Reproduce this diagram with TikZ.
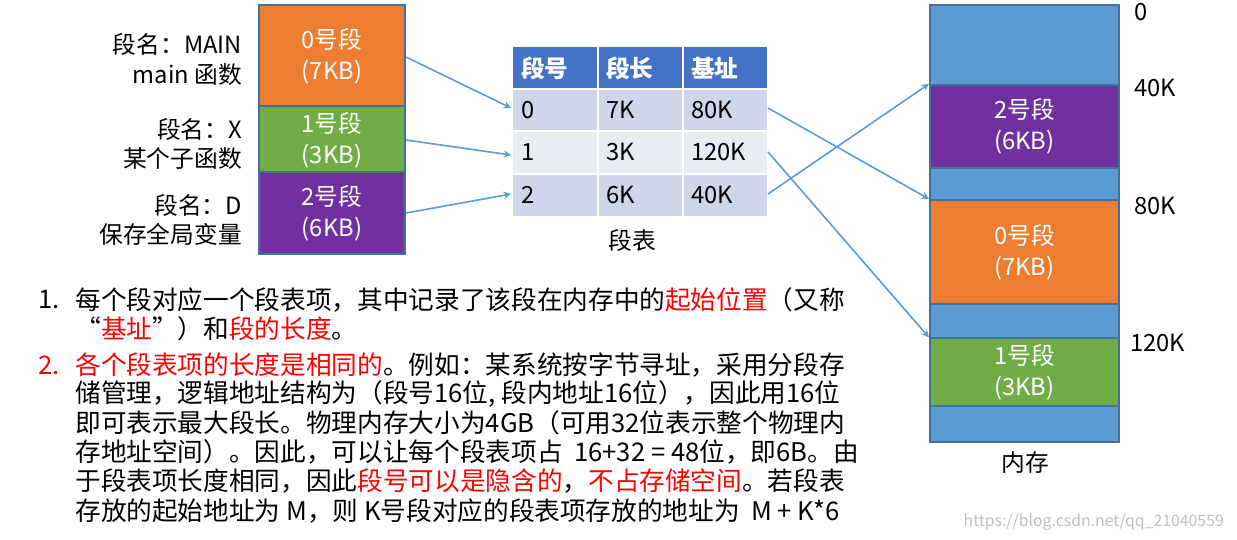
\documentclass[tikz,border=0pt]{standalone}
\usepackage{fontspec}
\setmainfont{Noto Sans CJK SC}
\definecolor{borg}{HTML}{ED7D31}
\definecolor{bgrn}{HTML}{70AD47}
\definecolor{bpur}{HTML}{7030A0}
\definecolor{bblu}{HTML}{5B9BD5}
\definecolor{bdr}{HTML}{41719C}
\definecolor{thead}{HTML}{4472C4}
\definecolor{rowa}{HTML}{CFD5EA}
\definecolor{rowb}{HTML}{E9EBF5}
\definecolor{arr}{HTML}{5B9BD5}
\definecolor{hl}{HTML}{FF0000}
\tikzset{
 seg/.style={draw=bdr,line width=1.2pt,text=white,align=center,font=\fontsize{13.5pt}{17.5pt}\selectfont},
 lbl/.style={font=\fontsize{13.5pt}{16pt}\selectfont,anchor=east},
 cell/.style={font=\fontsize{13.5pt}{16pt}\selectfont,anchor=west},
 hcell/.style={font=\bfseries\fontsize{13.5pt}{16pt}\selectfont,anchor=west,text=white},
 conn/.style={draw=arr,line width=0.9pt,-stealth},
 body/.style={font=\fontsize{14.6pt}{16pt}\selectfont,anchor=west,inner sep=0pt},
 addr/.style={font=\fontsize{13.5pt}{16pt}\selectfont,anchor=west}
}
\begin{document}
\begin{tikzpicture}[x=0.02cm,y=-0.02cm]
\useasboundingbox[fill=white] (0,0) rectangle (1237,539);
% left segments
\node[seg,fill=borg,minimum width=146*0.02cm,minimum height=103*0.02cm] (s0) at (332,56.5) {0号段\\(7KB)};
\node[seg,fill=bgrn,minimum width=146*0.02cm,minimum height=64*0.02cm] (s1) at (332,140) {1号段\\(3KB)};
\node[seg,fill=bpur,minimum width=146*0.02cm,minimum height=82*0.02cm] (s2) at (332,213) {2号段\\(6KB)};
\node[lbl] (l0a) at (248,44) {段名：MAIN};
\node[lbl] (l0b) at (248,75) {main 函数};
\node[lbl] (l1a) at (248,129) {段名：X};
\node[lbl] (l1b) at (248,158) {某个子函数};
\node[lbl] (l2a) at (248,205) {段名：D};
\node[lbl] (l2b) at (248,234) {保存全局变量};
% table
\fill[thead] (513,47) rectangle (767,89);
\fill[rowa] (513,89) rectangle (767,131);
\fill[rowb] (513,131) rectangle (767,174);
\fill[rowa] (513,174) rectangle (767,216);
\foreach \x in {598,683} \draw[white,line width=1.2pt] (\x,47) -- (\x,216);
\foreach \y in {89,131,174} \draw[white,line width=1.2pt] (513,\y) -- (767,\y);
\node[hcell] (h1) at (515,68) {段号};
\node[hcell] (h2) at (600,68) {段长};
\node[hcell] (h3) at (685,68) {基址};
\node[cell] (r0a) at (515,110) {0};
\node[cell] (r0b) at (600,110) {7K};
\node[cell] (r0c) at (685,110) {80K};
\node[cell] (r1a) at (515,152) {1};
\node[cell] (r1b) at (600,152) {3K};
\node[cell] (r1c) at (685,152) {120K};
\node[cell] (r2a) at (515,195) {2};
\node[cell] (r2b) at (600,195) {6K};
\node[cell] (r2c) at (685,195) {40K};
\node[font=\fontsize{13.5pt}{16pt}\selectfont] (tcap) at (632,240) {段表};
\coordinate (t0) at (511,108);
\coordinate (t1) at (511,155);
\coordinate (t2) at (511,194);
\coordinate (t0r) at (768,108);
\coordinate (t1r) at (768,152);
\coordinate (t2r) at (768,194);
% memory
\node[draw=bdr,line width=1.2pt,fill=bblu,minimum width=189*0.02cm,minimum height=437*0.02cm] (mem) at (1024.5,223.5) {};
\node[seg,fill=bpur,minimum width=189*0.02cm,minimum height=83*0.02cm] (m2) at (1024.5,126.5) {2号段\\(6KB)};
\node[seg,fill=borg,minimum width=189*0.02cm,minimum height=104*0.02cm] (m0) at (1024.5,252) {0号段\\(7KB)};
\node[seg,fill=bgrn,minimum width=189*0.02cm,minimum height=60*0.02cm] (m1) at (1024.5,372) {1号段\\(3KB)};
\node[addr] (a0) at (1128,12) {0};
\node[addr] (a1) at (1128,88) {40K};
\node[addr] (a2) at (1128,206) {80K};
\node[addr] (a3) at (1124,343) {120K};
\node[font=\fontsize{13.5pt}{16pt}\selectfont] (mcap) at (1025,462) {内存};
% connectors
\draw[conn] (s0.east |- 0,57) -- (t0);
\draw[conn] (s1.east) -- (t1);
\draw[conn] (s2.east) -- (t2);
\draw[conn] (t0r) -- (m0.north west);
\draw[conn] (t1r) -- (m1.north west);
\draw[conn] (t2r) -- (m2.north west);
% text
\node[body] (n1) at (38,300) {1.};
\node[body] (p1) at (75,300) {每个段对应一个段表项，其中记录了该段在内存中的\textcolor{hl}{起始位置}（又称};
\node[body] (p2) at (75,329) {“\textcolor{hl}{基址}”）和\textcolor{hl}{段的长度}。};
\node[body,text=hl] (n2) at (38,365) {2.};
\node[body] (q1) at (75,365) {\textcolor{hl}{各个段表项的长度是相同的}。例如：某系统按字节寻址，采用分段存};
\node[body] (q2) at (75,394) {储管理，逻辑地址结构为（段号16位, 段内地址16位），因此用16位};
\node[body] (q3) at (75,423) {即可表示最大段长。物理内存大小为4GB（可用32位表示整个物理内};
\node[body] (q4) at (75,452) {存地址空间）。因此，可以让每个段表项占 \ 16+32 = 48位，即6B。由};
\node[body] (q5) at (75,481) {于段表项长度相同，因此\textcolor{hl}{段号可以是隐含的}，\textcolor{hl}{不占存储空间}。若段表};
\node[body] (q6) at (75,511) {存放的起始地址为 M，则 K号段对应的段表项存放的地址为 \ M + K*6};
\node[anchor=east,text=black!25,font=\fontsize{9pt}{10pt}\selectfont] (wm) at (1230,522) {https://blog.csdn.net/qq\_21040559};
\end{tikzpicture}
\end{document}
